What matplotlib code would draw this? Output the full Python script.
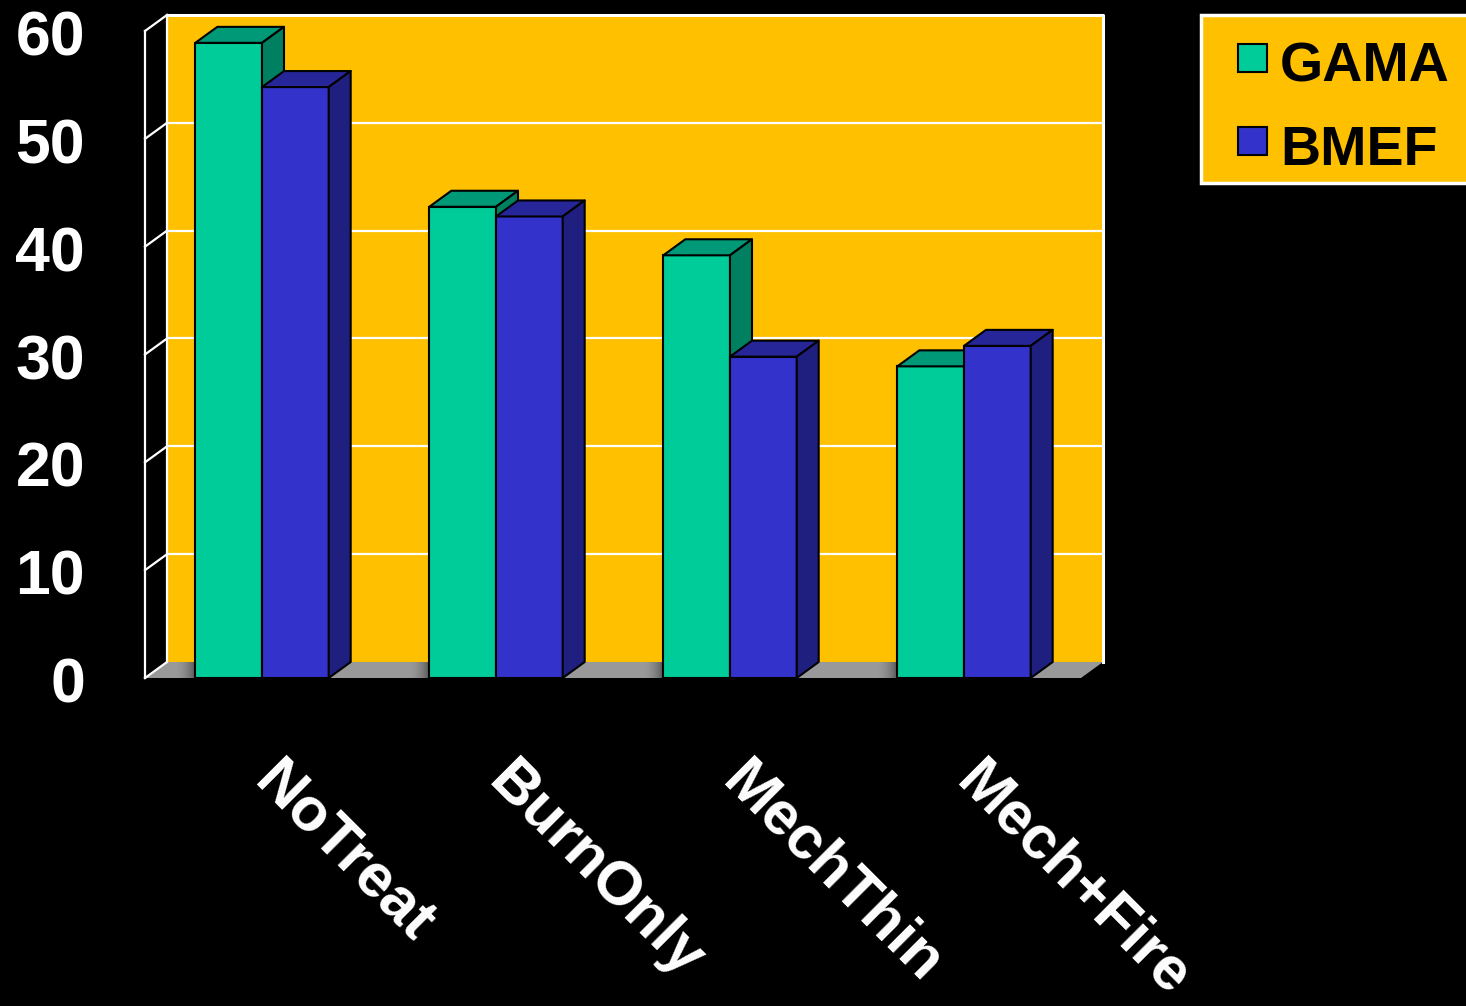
import numpy as np
import matplotlib
matplotlib.use("Agg")
import matplotlib.pyplot as plt
from matplotlib.patches import Polygon, Rectangle

# Data
categories = ["NoTreat", "BurnOnly", "MechThin", "Mech+Fire"]
gama = [58.9, 43.7, 39.2, 28.9]
bmef = [54.8, 42.8, 29.8, 30.8]
series_names = ["GAMA", "BMEF"]
y_ticks = [0, 10, 20, 30, 40, 50, 60]

# Styling
BG = "black"
WALL = "#FFC000"
FLOOR = "#999999"
FACE = {"GAMA": ("#00CC99", "#009977", "#008060"),
        "BMEF": ("#3333CC", "#262699", "#1F1F80")}

W, H = 1466, 1006
fig = plt.figure(figsize=(W / 100, H / 100), dpi=100, facecolor=BG)
ax = fig.add_axes([145 / W, (H - 678) / H, 936 / W, 647 / H])
ax.set_xlim(0, 4)
ax.set_ylim(0, 60)
ax.axis("off")
ax.set_facecolor(BG)

# depth offset of the 3D box, in data units
DX, DY = 0.094, 1.484
XMAX, YMAX = 4, 60

# back wall
ax.add_patch(Rectangle((DX, DY), XMAX, YMAX, facecolor=WALL, edgecolor="none",
                       zorder=1, clip_on=False))
for v in y_ticks[1:-1]:
    ax.plot([DX, XMAX + DX], [v + DY, v + DY], color="white", lw=1.6,
            zorder=2, clip_on=False, solid_capstyle="butt")
# wall frame
ax.plot([DX, XMAX + DX, XMAX + DX], [YMAX + DY, YMAX + DY, DY], color="white",
        lw=2.2, zorder=2, clip_on=False)
ax.plot([DX, DX], [DY, YMAX + DY], color="white", lw=1.6, zorder=2, clip_on=False)

# floor
ax.add_patch(Polygon([(0, 0), (XMAX, 0), (XMAX + DX, DY), (DX, DY)],
                     closed=True, facecolor=FLOOR, edgecolor="none", zorder=2,
                     clip_on=False))

# left side panel: front edge and tick diagonals
ax.plot([0, 0], [0, YMAX], color="white", lw=1.6, zorder=3, clip_on=False)
for v in y_ticks:
    ax.plot([0, DX], [v, v + DY], color="white", lw=1.6, zorder=3, clip_on=False)

# shading on the floor just left of each bar group
centers = np.arange(len(categories)) + 0.5
bw = 0.285
grad = np.zeros((2, 64, 4))
grad[..., 3] = np.linspace(0, 0.8, 64) ** 2
for c in centers:
    x1 = c - bw
    im = ax.imshow(grad, extent=(x1 - 0.09, x1 + DX * 0.2, 0, DY), aspect="auto",
                   zorder=2.5, interpolation="bilinear")
    im.set_clip_path(Polygon([(0, 0), (XMAX, 0), (XMAX + DX, DY), (DX, DY)],
                             closed=True, transform=ax.transData))
ax.set_xlim(0, 4)
ax.set_ylim(0, 60)

# bars
z = 4
for i, c in enumerate(centers):
    for j, (name, vals) in enumerate(zip(series_names, [gama, bmef])):
        front, top, side = FACE[name]
        x0 = c - bw + j * bw
        h = vals[i]
        ax.bar([x0], [h], width=bw, align="edge", color=front,
               edgecolor="black", linewidth=1.5, zorder=z, clip_on=False)
        ax.add_patch(Polygon([(x0, h), (x0 + bw, h), (x0 + bw + DX, h + DY),
                              (x0 + DX, h + DY)], closed=True, facecolor=top,
                             edgecolor="black", linewidth=1.5, zorder=z + 0.1,
                             clip_on=False, joinstyle="round"))
        ax.add_patch(Polygon([(x0 + bw, 0), (x0 + bw, h), (x0 + bw + DX, h + DY),
                              (x0 + bw + DX, DY)], closed=True, facecolor=side,
                             edgecolor="black", linewidth=1.5, zorder=z + 0.1,
                             clip_on=False, joinstyle="round"))
        z += 1

# y tick labels
for v in y_ticks:
    ax.annotate(str(v), xy=(0, v), xytext=(-60, -8), textcoords="offset pixels",
                ha="right", va="center", color="white", fontsize=45,
                fontweight="bold", family="Liberation Sans", annotation_clip=False)

# category labels
for c, lab in zip(centers, categories):
    ax.annotate(lab, xy=(c, 0), xytext=(-10, -106), textcoords="offset pixels",
                ha="left", va="baseline", rotation=-45, rotation_mode="anchor",
                color="white", fontsize=44, fontweight="bold",
                family="Liberation Sans", annotation_clip=False)

# legend box
fig.patches.append(Rectangle((1201 / W, (H - 183) / H), 300 / W, 168 / H,
                             transform=fig.transFigure, facecolor=WALL,
                             edgecolor="white", linewidth=2.5, zorder=10))
for k, name in enumerate(series_names):
    yc = 58 + k * 83
    fig.patches.append(Rectangle((1238 / W, (H - yc - 14) / H), 29 / W, 28 / H,
                                 transform=fig.transFigure,
                                 facecolor=FACE[name][0], edgecolor="black",
                                 linewidth=1.5, zorder=11))
    fig.text(1280 / W, (H - yc - 10) / H, name, ha="left", va="center",
             fontsize=40, fontweight="bold", family="Liberation Sans",
             color="black", zorder=12)

fig.savefig("out.png", dpi=100, facecolor=BG)
